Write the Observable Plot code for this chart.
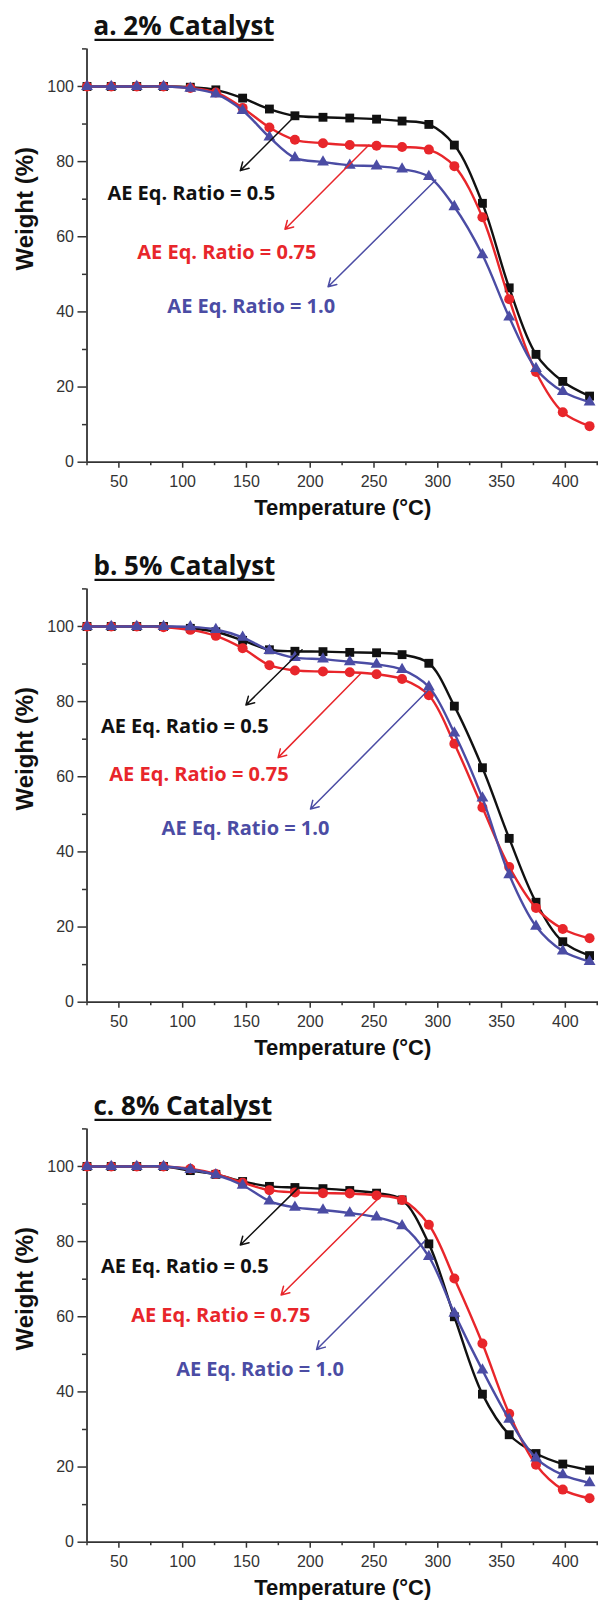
<!DOCTYPE html>
<html>
<head>
<meta charset="utf-8">
<script src="https://cdn.jsdelivr.net/npm/d3@7"></script>
<script src="https://cdn.jsdelivr.net/npm/@observablehq/plot@0.6"></script>
<style>
  body { margin: 0; background: #fff; }
  #chart svg { display: block; overflow: visible; }
</style>
</head>
<body>
<div id="chart"></div>
<script>
// TGA sampling temperatures (°C)
const temperature = [25, 44, 64, 85, 106, 126, 147, 168, 188, 210, 231, 252, 272, 293, 313, 335, 356, 377, 398, 419];

const panelTitles = ["a. 2% Catalyst", "b. 5% Catalyst", "c. 8% Catalyst"];
const ratioLabels = ["AE Eq. Ratio = 0.5", "AE Eq. Ratio = 0.75", "AE Eq. Ratio = 1.0"];
const seriesColors = ["#111111", "#e8262b", "#4b4ca4"];
const seriesSymbols = ["square", "circle", "triangle"];
const seriesRadius = [5, 5, 4.4];

// Weight (%) — 2% catalyst
const w2Ratio050 = [100, 100, 100, 100, 99.8, 99.1, 96.9, 94.0, 92.2, 91.8, 91.6, 91.3, 90.8, 89.9, 84.4, 68.9, 46.4, 28.7, 21.5, 17.6];
const w2Ratio075 = [100, 100, 100, 100, 99.6, 98.4, 94.3, 89.1, 85.8, 84.9, 84.4, 84.2, 83.9, 83.2, 78.8, 65.2, 43.4, 24.0, 13.3, 9.6];
const w2Ratio100 = [100, 100, 100, 100, 99.5, 98.0, 93.6, 86.5, 81.0, 79.9, 79.0, 78.8, 78.0, 76.0, 68.0, 55.2, 38.6, 24.9, 18.8, 16.0];

// Weight (%) — 5% catalyst
const w5Ratio050 = [100, 100, 100, 100, 99.5, 98.6, 96.3, 93.8, 93.4, 93.3, 93.1, 93.0, 92.5, 90.2, 78.8, 62.4, 43.6, 26.6, 16.1, 12.4];
const w5Ratio075 = [100, 100, 100, 99.8, 99.1, 97.5, 94.2, 89.7, 88.3, 88.0, 87.8, 87.3, 86.0, 81.7, 68.8, 51.8, 36.0, 25.1, 19.5, 17.0];
const w5Ratio100 = [100, 100, 100, 100, 99.9, 99.2, 97.1, 93.6, 91.7, 91.3, 90.6, 89.9, 88.5, 83.9, 71.6, 54.3, 33.9, 20.2, 13.6, 10.8];

// Weight (%) — 8% catalyst
const w8Ratio050 = [100, 100, 100, 100, 98.9, 97.9, 96.0, 94.7, 94.4, 94.1, 93.6, 92.9, 91.1, 79.4, 60.0, 39.4, 28.6, 23.6, 20.8, 19.2];
const w8Ratio075 = [100, 100, 100, 100, 99.4, 98.0, 95.7, 93.7, 93.1, 92.9, 92.8, 92.3, 91.1, 84.5, 70.2, 52.9, 34.2, 20.6, 14.0, 11.7];
const w8Ratio100 = [100, 100, 100, 100, 99.2, 97.8, 95.0, 90.8, 89.1, 88.4, 87.6, 86.5, 84.2, 76.0, 60.9, 45.8, 32.7, 22.4, 17.9, 15.8];

// Callout label anchors [temperature, weight] per ratio
const labelAt2 = [[41.0, 71.6], [64.4, 55.7], [88.0, 41.4]];
const labelAt5 = [[35.9, 73.4], [42.5, 60.6], [83.5, 46.1]];
const labelAt8 = [[35.9, 73.3], [59.6, 60.3], [94.9, 46.0]];

// Callout arrows [t1, w1, t2, w2] (from curve to label) per ratio
const arrows2 = [[188.2, 92.2, 145.2, 77.6], [246.0, 84.4, 180.2, 62.0], [298.4, 75.1, 214.0, 46.7]];
const arrows5 = [[193.6, 93.8, 149.6, 79.1], [240.0, 87.6, 174.8, 65.1], [292.4, 83.0, 200.2, 51.4]];
const arrows8 = [[190.6, 94.3, 145.2, 79.1], [255.0, 92.0, 177.2, 65.8], [289.4, 80.0, 205.0, 51.3]];

const xMajorTicks = [50, 100, 150, 200, 250, 300, 350, 400];
const xMinorTicks = [25, 75, 125, 175, 225, 275, 325, 375, 425];
const yMajorTicks = [0, 20, 40, 60, 80, 100];
const yMinorTicks = [10, 30, 50, 70, 90, 110];

const panels = [
  {title: panelTitles[0], series: [w2Ratio050, w2Ratio075, w2Ratio100], labels: labelAt2, arrows: arrows2, height: 540},
  {title: panelTitles[1], series: [w5Ratio050, w5Ratio075, w5Ratio100], labels: labelAt5, arrows: arrows5, height: 540},
  {title: panelTitles[2], series: [w8Ratio050, w8Ratio075, w8Ratio100], labels: labelAt8, arrows: arrows8, height: 530}
];

const axisFont = "'Liberation Sans', Arial, Helvetica, sans-serif";
const calloutFont = "'Open Sans', Lato, sans-serif";
const axisColor = "#333";

function drawPanel(p) {
  const marginTop = 48.4;
  const frameHeight = 413.3;
  const seriesMarks = p.series.flatMap((values, i) => {
    const rows = temperature.map((t, k) => ({t, w: values[k]}));
    return [
      Plot.line(rows, {x: "t", y: "w", curve: "catmull-rom", stroke: seriesColors[i], strokeWidth: 2.4}),
      Plot.dot(rows, {x: "t", y: "w", symbol: seriesSymbols[i], r: seriesRadius[i], fill: seriesColors[i], stroke: "none"})
    ];
  });
  const arrowRows = p.arrows.map(([t1, w1, t2, w2], i) => ({t1, w1, t2, w2, color: seriesColors[i]}));
  const labelRows = p.labels.map(([t, w], i) => ({t, w, text: ratioLabels[i], color: seriesColors[i]}));

  return Plot.plot({
    width: 598,
    height: p.height,
    marginTop,
    marginLeft: 86.5,
    marginRight: 0,
    marginBottom: p.height - marginTop - frameHeight,
    x: {domain: [25, 426]},
    y: {domain: [0, 110]},
    style: {fontFamily: axisFont, fontSize: "16px", color: axisColor, background: "white", overflow: "visible"},
    marks: [
      Plot.axisY({ticks: yMajorTicks, tickSize: 9, tickPadding: 4, label: null, fontSize: 16, strokeWidth: 1.5}),
      Plot.axisY({ticks: yMinorTicks, tickSize: 4.5, tickFormat: () => "", label: null, strokeWidth: 1.5}),
      Plot.axisX({ticks: xMajorTicks, tickSize: 6, tickPadding: 7, label: null, fontSize: 16, strokeWidth: 1.5}),
      Plot.axisX({ticks: xMinorTicks, tickSize: 3.5, tickFormat: () => "", label: null, strokeWidth: 1.5}),
      Plot.ruleX([25], {stroke: axisColor, strokeWidth: 1.8}),
      Plot.ruleY([0], {stroke: axisColor, strokeWidth: 1.8}),
      ...seriesMarks,
      Plot.arrow(arrowRows, {x1: "t1", y1: "w1", x2: "t2", y2: "w2", stroke: "color", strokeWidth: 1.5, headLength: 9}),
      Plot.text(labelRows, {x: "t", y: "w", text: "text", fill: "color", textAnchor: "start", fontFamily: calloutFont, fontWeight: "bold", fontSize: 20}),
      Plot.text([p.title], {frameAnchor: "top-left", dx: 6.5, dy: -32, textAnchor: "start", fontFamily: calloutFont, fontWeight: "bold", fontSize: 26, fill: "#111"}),
      Plot.text(["Temperature (°C)"], {frameAnchor: "bottom", dy: 53, fontFamily: axisFont, fontWeight: "bold", fontSize: 22, fill: "#111"}),
      Plot.text(["Weight (%)"], {frameAnchor: "left", dx: -61.5, dy: 15, rotate: -90, fontFamily: axisFont, fontWeight: "bold", fontSize: 24, fill: "#111"})
    ]
  });
}

// Underline the panel title once the SVG is in the document and measurable
function underlineTitle(svg, title) {
  const text = Array.from(svg.querySelectorAll("text")).find(t => t.textContent === title);
  if (!text) return;
  const box = text.getBBox();
  const m = text.getCTM();
  const x0 = m.a * box.x + m.e;
  const x1 = m.a * (box.x + box.width) + m.e;
  const base = m.d * (box.y + box.height) + m.f;
  d3.select(svg).append("line")
    .attr("x1", x0 + 1).attr("x2", x1 - 1)
    .attr("y1", base - 3.5).attr("y2", base - 3.5)
    .attr("stroke", "#111").attr("stroke-width", 2.2);
}

const root = document.getElementById("chart");
panels.forEach(p => {
  const svg = drawPanel(p);
  root.appendChild(svg);
  underlineTitle(svg, p.title);
});
</script>
</body>
</html>
